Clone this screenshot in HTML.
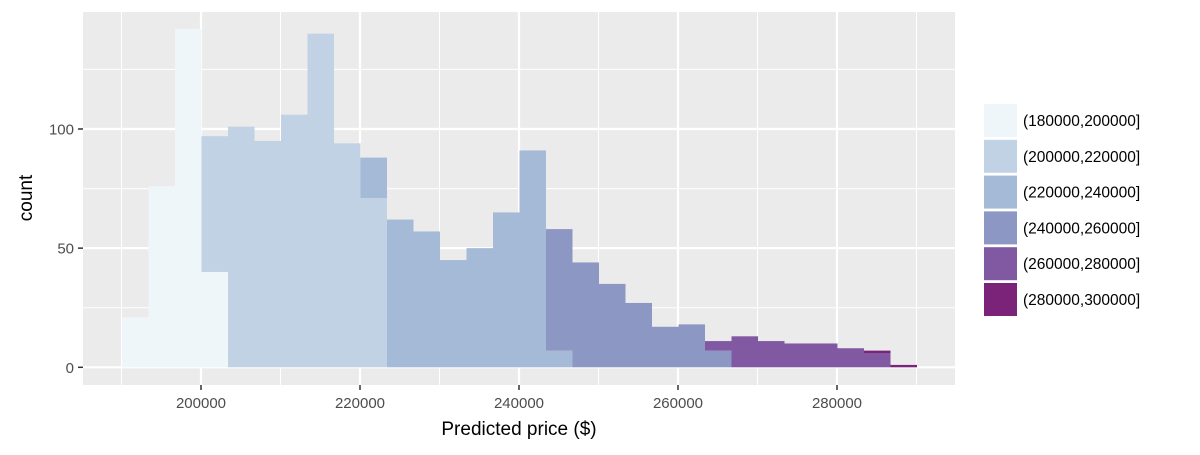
<!DOCTYPE html>
<html><head><meta charset="utf-8"><style>
body{margin:0;background:#fff;}
svg text{font-family:"Liberation Sans",Arial,sans-serif;}
</style></head><body>
<svg width="1200" height="450" xmlns="http://www.w3.org/2000/svg" id="chart">
<rect x="83" y="12" width="872" height="373" fill="#ebebeb"/>
<g id="grid"></g><g id="bars"></g><g id="axes"></g><g id="legend"></g>
<text x="519" y="435" font-size="19" text-anchor="middle" fill="#000">Predicted price ($)</text>
<text x="0" y="0" font-size="19" text-anchor="middle" fill="#000" transform="translate(32,198) rotate(-90)">count</text>
</svg>
<script>
const binStart = 190063;
const binWidth = 3333.33;
const groups = ["(180000,200000]","(200000,220000]","(220000,240000]","(240000,260000]","(260000,280000]","(280000,300000]"];
const colors = ["#eef6f9","#c2d2e5","#a5bad7","#8d97c3","#8158a2","#7b2279"];
// per-bin counts per group
const g1 = [21,76,142,40,0,0,0,0,0,0,0,0,0,0,0,0,0,0,0,0,0,0,0,0,0,0,0,0,0,0];
const g2 = [0,0,0,57,101,95,106,140,94,71,0,0,0,0,0,0,0,0,0,0,0,0,0,0,0,0,0,0,0,0];
const g3 = [0,0,0,0,0,0,0,0,0,17,62,57,45,50,65,91,7,0,0,0,0,0,0,0,0,0,0,0,0,0];
const g4 = [0,0,0,0,0,0,0,0,0,0,0,0,0,0,0,0,51,44,35,27,17,18,7,0,0,0,0,0,0,0];
const g5 = [0,0,0,0,0,0,0,0,0,0,0,0,0,0,0,0,0,0,0,0,0,0,4,13,11,10,10,8,6,0];
const g6 = [0,0,0,0,0,0,0,0,0,0,0,0,0,0,0,0,0,0,0,0,0,0,0,0,0,0,0,0,1,1];
const series = [g1,g2,g3,g4,g5,g6];
const xTicks = [200000,220000,240000,260000,280000];
const yTicks = [0,50,100];

const NS="http://www.w3.org/2000/svg";
const X = v => 201 + (v-200000)*159/20000;
const Y = v => 367.3 - v*2.383;
function mk(tag, attrs, parent){const e=document.createElementNS(NS,tag);for(const k in attrs)e.setAttribute(k,attrs[k]);parent.appendChild(e);return e;}
const grid=document.getElementById('grid'), bars=document.getElementById('bars'), axes=document.getElementById('axes'), legend=document.getElementById('legend');
for(let i=0;i<xTicks.length+1;i++){const v=xTicks[0]-10000+i*20000;const l=mk('line',{x1:X(v),x2:X(v),y1:12,y2:385,stroke:'#fff','stroke-width':1},grid);

}
for(let i=0;i<yTicks.length;i++){const v=yTicks[i]+25;const l=mk('line',{x1:83,x2:955,y1:Y(v),y2:Y(v),stroke:'#fff','stroke-width':1},grid);

}
xTicks.forEach(v=>{const l=mk('line',{x1:X(v),x2:X(v),y1:12,y2:385,stroke:'#fff','stroke-width':2.2},grid);


const t=mk('line',{x1:X(v),x2:X(v),y1:385,y2:390,stroke:'#333','stroke-width':1.5},axes);


const tx=mk('text',{x:X(v),y:408,'font-size':15,'text-anchor':'middle',fill:'#4d4d4d'},axes);tx.textContent=v;

});
yTicks.forEach(v=>{const l=mk('line',{x1:83,x2:955,y1:Y(v),y2:Y(v),stroke:'#fff','stroke-width':2.2},grid);


const t=mk('line',{x1:78,x2:83,y1:Y(v),y2:Y(v),stroke:'#333','stroke-width':1.5},axes);


const tx=mk('text',{x:74,y:Y(v)+5.5,'font-size':15,'text-anchor':'end',fill:'#4d4d4d'},axes);tx.textContent=v;

});
// stacked bars: first group at bottom
for(let b=0;b<g1.length;b++){
  let base=0;
  const x0=X(binStart+b*binWidth), x1=X(binStart+(b+1)*binWidth);
  for(let s=0;s<series.length;s++){
    const v=series[s][b]; if(!v) continue;
    const r=mk('rect',{x:x0,y:Y(base+v),width:x1-x0,height:Y(base)-Y(base+v),fill:colors[s]},bars);
    
    
    base+=v;
  }
}
groups.forEach((g,i)=>{const y=104+i*35.8;
const r=mk('rect',{x:984,y:y,width:33,height:33,fill:colors[i]},legend);


const t=mk('text',{x:1023,y:y+22,'font-size':15.5,fill:'#000'},legend);t.textContent=g;

});
</script>
</body></html>
